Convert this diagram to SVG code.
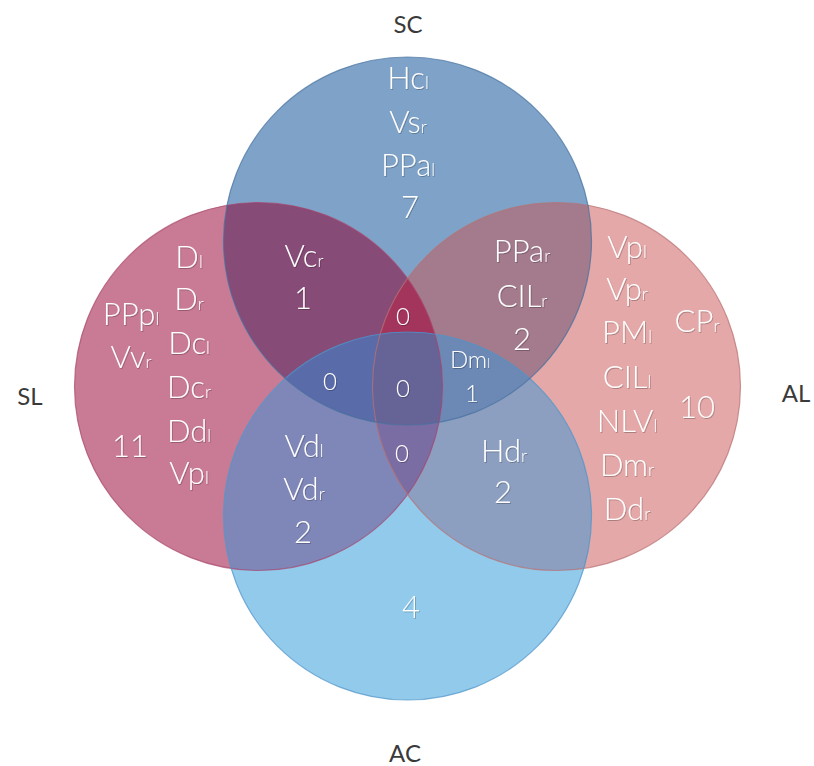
<svg xmlns="http://www.w3.org/2000/svg" width="814" height="766" viewBox="0 0 814 766">
<style>
.t{font-family:Lato,"Open Sans","Liberation Sans",sans-serif;font-weight:300;fill:#fff;text-anchor:middle;font-size:31px;filter:url(#sh)}
.m{font-size:24px}
.s{font-size:55%}
.lab{font-family:Lato,"Open Sans","Liberation Sans",sans-serif;fill:#3a3a3a;text-anchor:middle;font-size:24px}
.edge{fill:none;stroke-width:1.2}
</style>
<defs>
<filter id="sh" x="-10%" y="-10%" width="120%" height="130%"><feDropShadow dx="0.8" dy="1" stdDeviation="0.5" flood-color="#000" flood-opacity="0.25"/></filter>
<clipPath id="cSC"><circle cx="407.5" cy="241" r="184"/></clipPath>
<clipPath id="cSL"><circle cx="258.5" cy="386.5" r="184"/></clipPath>
<clipPath id="cAL"><circle cx="556.5" cy="386.5" r="184"/></clipPath>
<clipPath id="cAC"><circle cx="407.5" cy="516" r="184"/></clipPath>
</defs>
<rect width="814" height="766" fill="#fff"/>
<g id="regions">
<circle cx="258.5" cy="386.5" r="184" fill="#C97B95"/>
<circle cx="556.5" cy="386.5" r="184" fill="#E4A8A8"/>
<circle cx="407.5" cy="516" r="184" fill="#92CAEC"/>
<circle cx="407.5" cy="241" r="184" fill="#7FA3C8"/>
<g clip-path="url(#cSL)"><circle cx="407.5" cy="241" r="184" fill="#874B77"/></g>
<g clip-path="url(#cAL)"><circle cx="407.5" cy="241" r="184" fill="#A37B8C"/></g>
<g clip-path="url(#cSL)"><circle cx="407.5" cy="516" r="184" fill="#7F87B8"/></g>
<g clip-path="url(#cAL)"><circle cx="407.5" cy="516" r="184" fill="#8C9FC0"/></g>
<g clip-path="url(#cSL)"><g clip-path="url(#cSC)"><circle cx="556.5" cy="386.5" r="184" fill="#A3355C"/></g></g>
<g clip-path="url(#cSL)"><g clip-path="url(#cSC)"><circle cx="407.5" cy="516" r="184" fill="#5A6BA9"/></g></g>
<g clip-path="url(#cAL)"><g clip-path="url(#cSC)"><circle cx="407.5" cy="516" r="184" fill="#6C88B4"/></g></g>
<g clip-path="url(#cSL)"><g clip-path="url(#cAL)"><circle cx="407.5" cy="516" r="184" fill="#7A6DA3"/></g></g>
<g clip-path="url(#cSL)"><g clip-path="url(#cAL)"><g clip-path="url(#cSC)"><circle cx="407.5" cy="516" r="184" fill="#666397"/></g></g></g>
</g>
<g id="set-SL">
<circle class="edge" cx="258.5" cy="386.5" r="184" stroke="#A8466C" stroke-opacity="0.7"/>
<text class="lab" x="30" y="405">SL</text>
<text class="t" x="189" y="268">D<tspan class="s">l</tspan></text>
<text class="t" x="189" y="310">D<tspan class="s">r</tspan></text>
<text class="t" x="189" y="354">Dc<tspan class="s">l</tspan></text>
<text class="t" x="189" y="398">Dc<tspan class="s">r</tspan></text>
<text class="t" x="189" y="442">Dd<tspan class="s">l</tspan></text>
<text class="t" x="189" y="484">Vp<tspan class="s">l</tspan></text>
<text class="t" x="131" y="325">PPp<tspan class="s">l</tspan></text>
<text class="t" x="131" y="368">Vv<tspan class="s">r</tspan></text>
<text class="t" x="130" y="457">11</text>
</g>
<g id="set-AL">
<circle class="edge" cx="556.5" cy="386.5" r="184" stroke="#B87072" stroke-opacity="0.7"/>
<text class="lab" x="796" y="402">AL</text>
<text class="t" x="627" y="258">Vp<tspan class="s">l</tspan></text>
<text class="t" x="627" y="300">Vp<tspan class="s">r</tspan></text>
<text class="t" x="627" y="343">PM<tspan class="s">l</tspan></text>
<text class="t" x="627" y="388">CIL<tspan class="s">l</tspan></text>
<text class="t" x="627" y="432">NLV<tspan class="s">l</tspan></text>
<text class="t" x="627" y="476">Dm<tspan class="s">r</tspan></text>
<text class="t" x="627" y="520">Dd<tspan class="s">r</tspan></text>
<text class="t" x="697" y="332">CP<tspan class="s">r</tspan></text>
<text class="t" x="697" y="418">10</text>
</g>
<g id="set-AC">
<circle class="edge" cx="407.5" cy="516" r="184" stroke="#4F93C8" stroke-opacity="0.7"/>
<text class="lab" x="405" y="762">AC</text>
<text class="t" x="411" y="618">4</text>
</g>
<g id="set-SC">
<circle class="edge" cx="407.5" cy="241" r="184" stroke="#46709E" stroke-opacity="0.7"/>
<text class="lab" x="408" y="33">SC</text>
<text class="t" x="408" y="89">Hc<tspan class="s">l</tspan></text>
<text class="t" x="408" y="133">Vs<tspan class="s">r</tspan></text>
<text class="t" x="408" y="176">PPa<tspan class="s">l</tspan></text>
<text class="t" x="410" y="218">7</text>
</g>
<g id="intersections">
<text class="t" x="304" y="267">Vc<tspan class="s">r</tspan></text>
<text class="t" x="303" y="309">1</text>
<text class="t" x="522" y="262">PPa<tspan class="s">r</tspan></text>
<text class="t" x="522" y="307">CIL<tspan class="s">r</tspan></text>
<text class="t" x="522" y="350">2</text>
<text class="t" x="304" y="457">Vd<tspan class="s">l</tspan></text>
<text class="t" x="304" y="500">Vd<tspan class="s">r</tspan></text>
<text class="t" x="303" y="543">2</text>
<text class="t" x="504" y="462">Hd<tspan class="s">r</tspan></text>
<text class="t" x="503" y="503">2</text>
<text class="t m" x="403" y="325">0</text>
<text class="t m" x="330" y="390">0</text>
<text class="t m" x="403" y="397">0</text>
<text class="t m" x="402" y="462">0</text>
<text class="t m" x="470" y="368">Dm<tspan class="s">l</tspan></text>
<text class="t m" x="472" y="402">1</text>
</g>
</svg>
